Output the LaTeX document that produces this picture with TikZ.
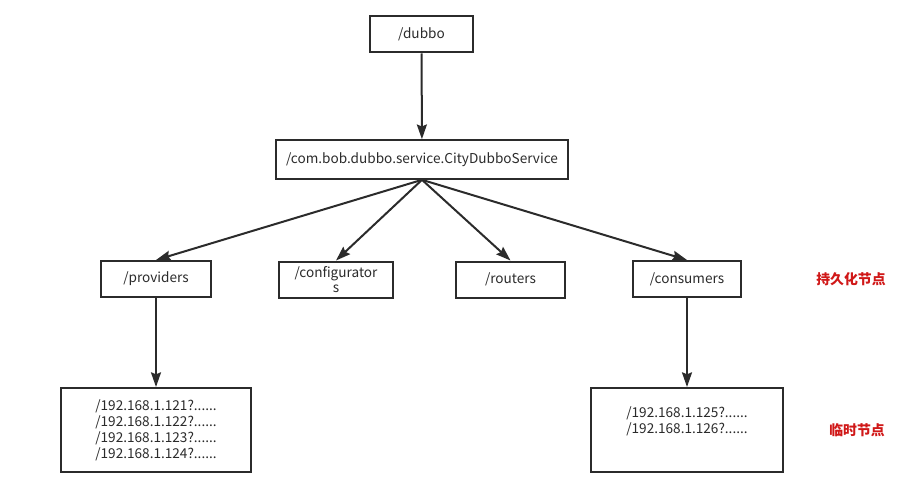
\documentclass[tikz,border=0pt]{standalone}
\usepackage{fontspec}
\setmainfont{Noto Sans CJK SC}
\usepackage{tikz}
\usetikzlibrary{arrows.meta}
\definecolor{ink}{HTML}{2B2B2B}
\definecolor{tagred}{HTML}{D01818}

\begin{document}
\begin{tikzpicture}[x=0.75pt,y=-0.75pt,->,>={Stealth[length=11pt,width=7.5pt,inset=1.5pt]},
                    line width=1.5pt,draw=ink,font=\fontsize{10.2}{12}\selectfont]
\tikzstyle{box}=[rectangle,draw=ink,fill=white,text=ink,inner sep=0pt,minimum height=27pt]
\tikzstyle{tag}=[text=tagred,font=\fontsize{10.4}{12}\selectfont\bfseries]
\useasboundingbox (0,0) rectangle (902,477);
\node[box,minimum width=77pt] (dubbo) at (421.5,34.5) {/dubbo};
\node[box,minimum width=219pt,minimum height=29pt] (svc) at (422,159.5) {/com.bob.dubbo.service.CityDubboService};
\node[box,minimum width=82.5pt] (prov) at (156,279) {/providers};
\node[box,minimum width=85.5pt,align=center,font=\fontsize{10.2}{11}\selectfont] (conf) at (336,279.5) {/configurator\\s};
\node[box,minimum width=82pt] (rout) at (510.5,279.5) {/routers};
\node[box,minimum width=81pt] (cons) at (687,279) {/consumers};
\node[box,minimum width=143pt,minimum height=63pt,align=center] (provlist) at (156,430)
  {/192.168.1.121?......\\/192.168.1.122?......\\/192.168.1.123?......\\/192.168.1.124?......};
\node[box,minimum width=144pt,minimum height=63pt,align=center] (conslist) at (687,430)
  {/192.168.1.125?......\\/192.168.1.126?......\\\strut};
\node[tag] (persist) at (851,279) {持久化节点};
\node[tag] (temp) at (857,430) {临时节点};
\path (dubbo) edge (svc)
      (svc.south) edge (prov.north)
      (svc.south) edge (conf.north)
      (svc.south) edge (rout.north)
      (svc.south) edge (cons.north)
      (prov) edge (provlist)
      (cons) edge (conslist);
\end{tikzpicture}
\end{document}
